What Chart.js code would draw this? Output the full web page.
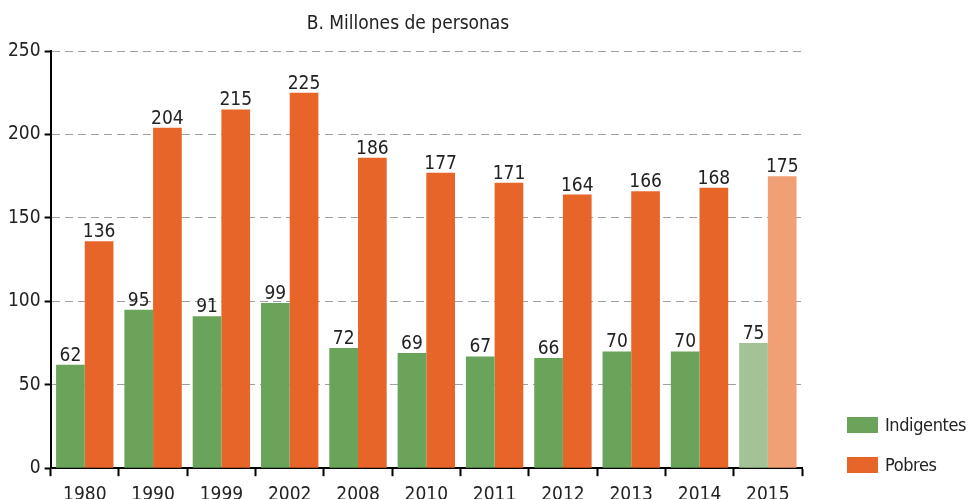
<!DOCTYPE html>
<html>
<head>
<meta charset="utf-8">
<script src="https://cdn.jsdelivr.net/npm/chart.js@4.4.1/dist/chart.umd.min.js"></script>
<style>
  html, body { margin: 0; padding: 0; background: #fff; overflow: hidden; }
  #wrap { position: relative; width: 970px; height: 513px; }
  .leg { position: absolute; left: 847px; white-space: nowrap; font: 18px "Liberation Sans Narrow", "DejaVu Sans Condensed", sans-serif; letter-spacing: -0.4px; color: #222; }
  .leg span { display: inline-block; width: 31px; height: 16px; vertical-align: -2px; margin-right: 7px; }
</style>
</head>
<body>
<div id="wrap">
  <canvas id="c" width="970" height="513"></canvas>
  <div class="leg" style="top:414px"><span id="sw-ind"></span>Indigentes</div>
  <div class="leg" style="top:454px"><span id="sw-pob"></span>Pobres</div>
</div>
<script>
// Grafico B: millones de personas indigentes y pobres
const FONT = '"Liberation Sans Narrow", "DejaVu Sans Condensed", sans-serif';
const C = { green: "#6aa45a", orange: "#e8652a", greenLt: "#a3c296", orangeLt: "#f0a074", ink: "#222", grid: "#a0a0a0" };

const anios = ["1980", "1990", "1999", "2002", "2008", "2010", "2011", "2012", "2013", "2014", "2015"];
const indigentes = [62, 95, 91, 99, 72, 69, 67, 66, 70, 70, 75];
const pobres = [136, 204, 215, 225, 186, 177, 171, 164, 166, 168, 175];
const yTicks = [0, 50, 100, 150, 200, 250];
const TITULO = "B. Millones de personas";

document.getElementById("sw-ind").style.background = C.green;
document.getElementById("sw-pob").style.background = C.orange;

// el ultimo anio (proyeccion) va en tono claro
const color = (base, claro) => (ctx) => (ctx.dataIndex === anios.length - 1 ? claro : base);

const etiquetas = {
  id: "etiquetas",
  afterDatasetsDraw(chart) {
    const ctx = chart.ctx;
    ctx.save();
    ctx.font = "19px " + FONT;
    ctx.fillStyle = C.ink;
    ctx.textAlign = "center";
    ctx.textBaseline = "alphabetic";
    chart.data.datasets.forEach((ds, i) => {
      chart.getDatasetMeta(i).data.forEach((bar, j) => {
        ctx.fillText(String(ds.data[j]), bar.x, bar.y - 4);
      });
    });
    ctx.fillText(TITULO, 408, 29);
    ctx.restore();
  },
};

new Chart(document.getElementById("c"), {
  type: "bar",
  data: {
    labels: anios,
    datasets: [
      { label: "Indigentes", data: indigentes, backgroundColor: color(C.green, C.greenLt) },
      { label: "Pobres", data: pobres, backgroundColor: color(C.orange, C.orangeLt) },
    ],
  },
  options: {
    responsive: false,
    animation: false,
    categoryPercentage: 0.84,
    barPercentage: 1,
    layout: { padding: { top: 51, right: 168, left: 4, bottom: 0 } },
    plugins: { legend: { display: false }, tooltip: { enabled: false } },
    scales: {
      x: {
        grid: { drawOnChartArea: false, tickLength: 8, tickColor: "#000", tickWidth: 2 },
        border: { color: "#000", width: 2 },
        ticks: { color: C.ink, font: { family: FONT, size: 19 }, padding: 7 },
      },
      y: {
        min: 0,
        max: 250,
        afterBuildTicks: (s) => { s.ticks = yTicks.map((v) => ({ value: v })); },
        grid: { color: C.grid, lineWidth: 1, tickLength: 6, tickColor: "#000", tickWidth: 2, tickBorderDash: [] },
        border: { color: "#000", width: 2, dash: [8, 5] },
        ticks: { color: C.ink, font: { family: FONT, size: 19 }, padding: 4 },
      },
    },
  },
  plugins: [etiquetas],
});
</script>
</body>
</html>
